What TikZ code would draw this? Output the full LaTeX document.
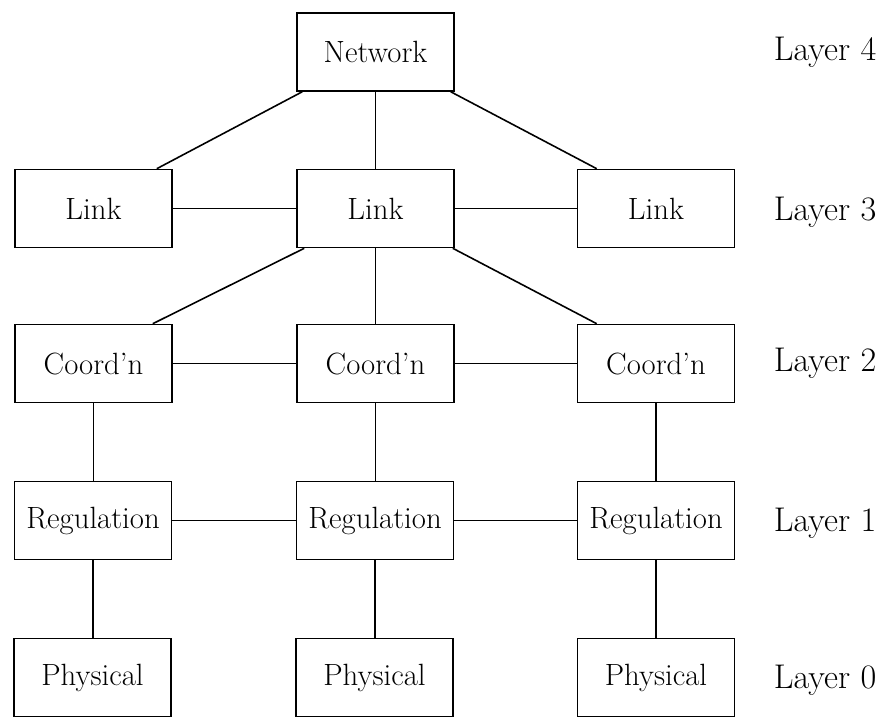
\documentclass[tikz,border=0pt]{standalone}
\usepackage{amsmath,amssymb}

\begin{document}
\begin{tikzpicture}[
    box/.style={draw,line width=0.9pt,minimum width=3.14cm,minimum height=1.56cm,inner sep=0pt,font=\fontsize{17.5}{20}\selectfont},
    lyr/.style={anchor=west,inner sep=0pt,font=\fontsize{19.5}{22}\selectfont},
    every path/.style={line width=0.9pt}]
                    \useasboundingbox (0,0) rectangle (17.7,-14.32);
                    \node[box] (net) at (7.51,-1.04) {Network};
                    \node[box] (linkA) at (1.87,-4.17) {Link};
                    \node[box] (linkB) at (7.51,-4.17) {Link};
                    \node[box] (linkC) at (13.12,-4.17) {Link};
                    \node[box] (coordA) at (1.87,-7.27) {Coord'n};
                    \node[box] (coordB) at (7.51,-7.27) {Coord'n};
                    \node[box] (coordC) at (13.12,-7.27) {Coord'n};
                    \node[box] (regA) at (1.86,-10.41) {Regulation};
                    \node[box] (regB) at (7.50,-10.41) {Regulation};
                    \node[box] (regC) at (13.12,-10.41) {Regulation};
                    \node[box] (phyA) at (1.85,-13.55) {Physical};
                    \node[box] (phyB) at (7.49,-13.55) {Physical};
                    \node[box] (phyC) at (13.12,-13.55) {Physical};
                    \node[lyr] (l4) at (15.46,-1.04) {Layer 4};
                    \node[lyr] (l3) at (15.46,-4.24) {Layer 3};
                    \node[lyr] (l2) at (15.46,-7.26) {Layer 2};
                    \node[lyr] (l1) at (15.46,-10.46) {Layer 1};
                    \node[lyr] (l0) at (15.46,-13.60) {Layer 0};
                    \draw ([xshift=0.12cm]net.south west)--([xshift=-0.32cm]linkA.north east);
                    \draw (net.south)--(linkB.north);
                    \draw ([xshift=-0.08cm]net.south east)--([xshift=0.4cm]linkC.north west);
                    \draw (linkA.east)--(linkB.west);
                    \draw (linkB.east)--(linkC.west);
                    \draw ([xshift=0.16cm]linkB.south west)--([xshift=-0.4cm]coordA.north east);
                    \draw (linkB.south)--(coordB.north);
                    \draw ([xshift=-0.04cm]linkB.south east)--([xshift=0.4cm]coordC.north west);
                    \draw (coordA.east)--(coordB.west);
                    \draw (coordB.east)--(coordC.west);
                    \draw (coordA.south)--(coordA.south|-regA.north);
                    \draw (coordB.south)--(coordB.south|-regB.north);
                    \draw (coordC.south)--(coordC.south|-regC.north);
                    \draw (regA.east)--(regB.west);
                    \draw (regB.east)--(regC.west);
                    \draw (regA.south)--(regA.south|-phyA.north);
                    \draw (regB.south)--(regB.south|-phyB.north);
                    \draw (regC.south)--(regC.south|-phyC.north);
                \end{tikzpicture}
\end{document}
